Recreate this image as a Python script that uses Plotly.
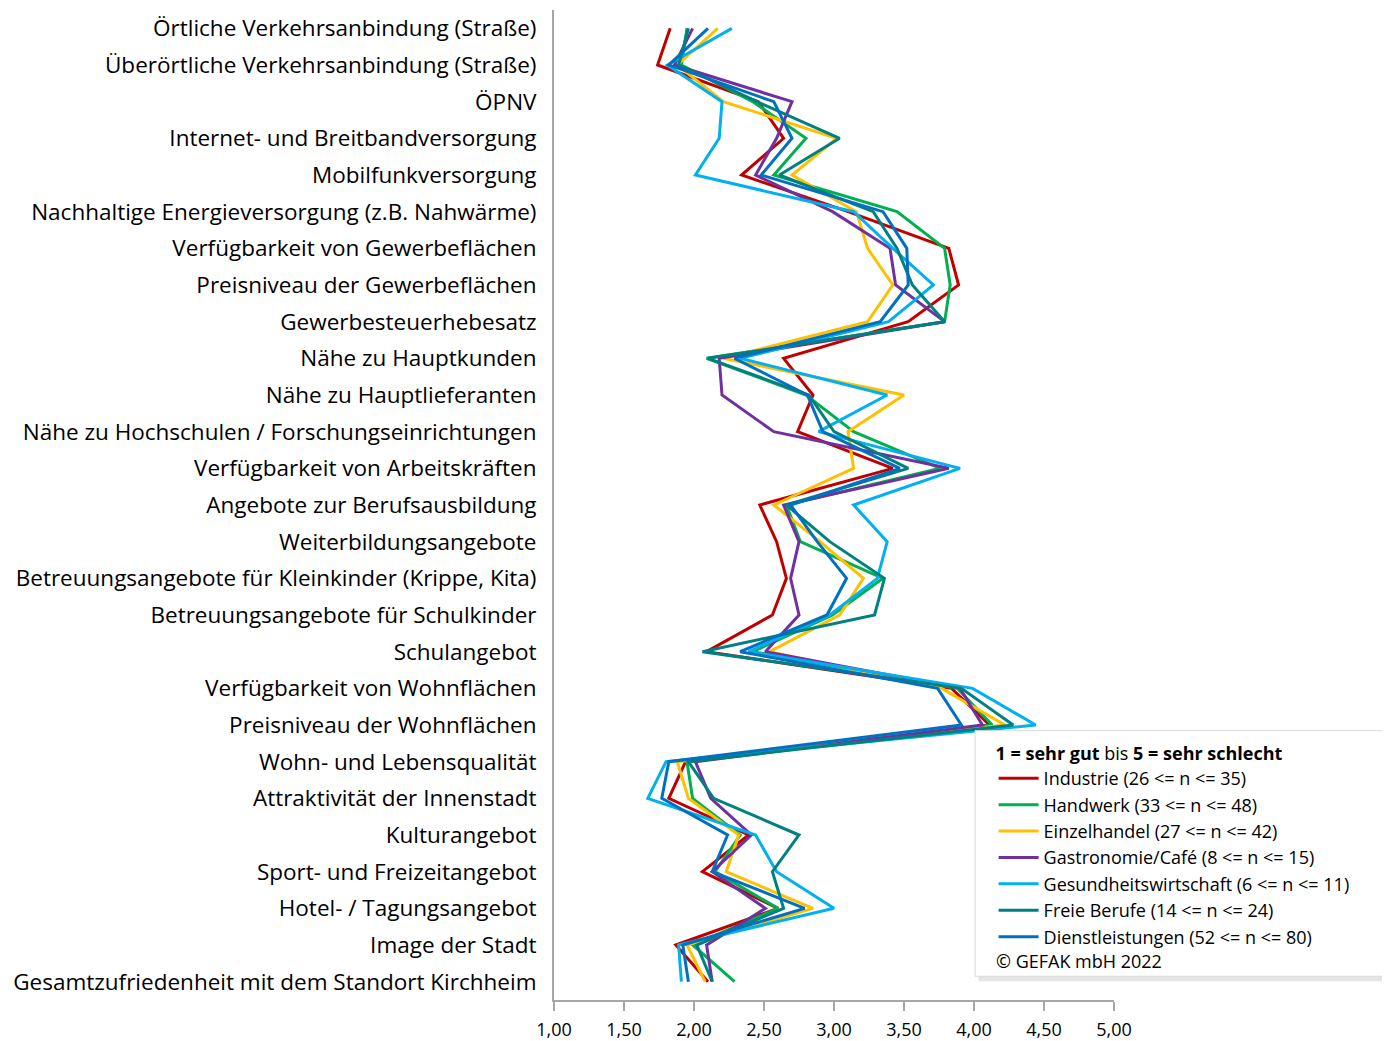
import plotly.graph_objects as go

categories = [
    "Örtliche Verkehrsanbindung (Straße)",
    "Überörtliche Verkehrsanbindung (Straße)",
    "ÖPNV",
    "Internet- und Breitbandversorgung",
    "Mobilfunkversorgung",
    "Nachhaltige Energieversorgung (z.B. Nahwärme)",
    "Verfügbarkeit von Gewerbeflächen",
    "Preisniveau der Gewerbeflächen",
    "Gewerbesteuerhebesatz",
    "Nähe zu Hauptkunden",
    "Nähe zu Hauptlieferanten",
    "Nähe zu Hochschulen / Forschungseinrichtungen",
    "Verfügbarkeit von Arbeitskräften",
    "Angebote zur Berufsausbildung",
    "Weiterbildungsangebote",
    "Betreuungsangebote für Kleinkinder (Krippe, Kita)",
    "Betreuungsangebote für Schulkinder",
    "Schulangebot",
    "Verfügbarkeit von Wohnflächen",
    "Preisniveau der Wohnflächen",
    "Wohn- und Lebensqualität",
    "Attraktivität der Innenstadt",
    "Kulturangebot",
    "Sport- und Freizeitangebot",
    "Hotel- / Tagungsangebot",
    "Image der Stadt",
    "Gesamtzufriedenheit mit dem Standort Kirchheim",
]

industrie = [1.83, 1.74, 2.46, 2.64, 2.34, 3.10, 3.82, 3.89, 3.53, 2.64, 2.85, 2.74, 3.42, 2.47,
             2.59, 2.66, 2.56, 2.09, 3.84, 4.11, 1.94, 1.82, 2.39, 2.06, 2.60, 1.87, 2.10]
handwerk = [1.95, 1.91, 2.42, 2.80, 2.57, 3.45, 3.79, 3.83, 3.79, 2.09, 2.80, 3.14, 3.76, 2.66,
            2.76, 3.35, 2.99, 2.42, 3.88, 4.13, 1.95, 1.99, 2.33, 2.15, 2.60, 1.99, 2.29]
einzelhandel = [2.17, 1.88, 2.21, 3.02, 2.70, 3.16, 3.24, 3.42, 3.24, 2.21, 3.50, 3.10, 3.14, 2.57,
                2.90, 3.21, 3.04, 2.54, 3.77, 4.22, 1.88, 1.96, 2.32, 2.23, 2.85, 1.95, 2.08]
gastronomie = [1.99, 1.86, 2.70, 2.59, 2.44, 2.99, 3.40, 3.44, 3.79, 2.18, 2.20, 2.57, 3.82, 2.64,
               2.75, 2.69, 2.75, 2.51, 3.90, 4.06, 2.01, 2.12, 2.41, 2.13, 2.51, 2.09, 2.13]
gesundheit = [2.27, 1.81, 2.20, 2.18, 2.01, 3.14, 3.42, 3.71, 3.39, 2.33, 3.38, 2.89, 3.90, 3.14,
              3.38, 3.31, 2.97, 2.39, 3.99, 4.44, 1.80, 1.67, 2.44, 2.59, 3.00, 1.89, 1.91]
freie_berufe = [1.96, 1.89, 2.45, 3.04, 2.61, 3.28, 3.45, 3.56, 3.79, 2.10, 2.82, 3.00, 3.53, 2.66,
                2.97, 3.36, 3.29, 2.06, 3.91, 4.28, 1.96, 2.14, 2.75, 2.56, 2.64, 2.02, 2.13]
dienstleistungen = [2.10, 1.82, 2.57, 2.70, 2.48, 3.35, 3.52, 3.53, 3.33, 2.29, 2.81, 2.92, 3.47, 2.69,
                    2.88, 3.09, 2.95, 2.33, 3.74, 3.91, 1.82, 1.77, 2.24, 2.13, 2.79, 1.92, 1.96]

series_names = [
    "Industrie (26 <= n <= 35)",
    "Handwerk (33 <= n <= 48)",
    "Einzelhandel (27 <= n <= 42)",
    "Gastronomie/Café (8 <= n <= 15)",
    "Gesundheitswirtschaft (6 <= n <= 11)",
    "Freie Berufe (14 <= n <= 24)",
    "Dienstleistungen (52 <= n <= 80)",
]
series_values = [industrie, handwerk, einzelhandel, gastronomie, gesundheit, freie_berufe, dienstleistungen]
colors = ["#C00000", "#00B050", "#FFC000", "#7030A0", "#00B0F0", "#008080", "#0070C0"]

x_ticks = [1.0, 1.5, 2.0, 2.5, 3.0, 3.5, 4.0, 4.5, 5.0]

FONT = "Open Sans, Carlito, Calibri, sans-serif"

fig = go.Figure()
for name, vals, col in zip(series_names, series_values, colors):
    fig.add_trace(go.Scatter(
        x=vals, y=categories, mode="lines", name=name,
        line=dict(color=col, width=3),
    ))

# legend box with soft shadow
fig.add_shape(type="rect", xref="paper", yref="paper",
              x0=0.758, x1=1.486, y0=0.019, y1=0.267,
              line=dict(width=0), fillcolor="rgba(0,0,0,0.10)", layer="above")
fig.add_shape(type="rect", xref="paper", yref="paper",
              x0=0.752, x1=1.480, y0=0.024, y1=0.272,
              line=dict(color="#D9D9D9", width=1), fillcolor="white", layer="above")

fig.add_annotation(xref="paper", yref="paper", x=0.786, y=0.039, xanchor="left", yanchor="middle",
                   text="© GEFAK mbH 2022", showarrow=False,
                   font=dict(family=FONT, size=18, color="#000000"))

fig.update_layout(
    width=1390, height=1041,
    margin=dict(l=546, r=284, t=2, b=49),
    paper_bgcolor="white", plot_bgcolor="white",
    separators=",.",
    font=dict(family=FONT, color="#000000"),
    showlegend=True,
    legend=dict(
        x=0.785, y=0.266, xanchor="left", yanchor="top",
        bgcolor="rgba(0,0,0,0)", borderwidth=0,
        title=dict(text="<b>1 = sehr gut</b> bis <b>5 = sehr schlecht</b>",
                   font=dict(family=FONT, size=18, color="#000000"), side="top"),
        font=dict(family=FONT, size=18, color="#000000"),
        itemwidth=40, tracegroupgap=0,
    ),
    xaxis=dict(
        range=[1, 5], tickvals=x_ticks, tickformat=".2f",
        showgrid=False, zeroline=False,
        showline=True, linecolor="#A6A6A6", linewidth=2,
        ticks="outside", ticklen=9, tickcolor="#A6A6A6", tickwidth=2,
        ticklabelstandoff=3,
        tickfont=dict(family=FONT, size=18, color="#000000"),
        fixedrange=True,
    ),
    yaxis=dict(
        type="category", categoryorder="array", categoryarray=categories,
        range=[len(categories) - 0.5, -0.5],
        showgrid=False, zeroline=False,
        showline=True, linecolor="#A6A6A6", linewidth=2,
        ticks="", ticklabelstandoff=11,
        tickfont=dict(family=FONT, size=22.5, color="#000000"),
        fixedrange=True,
    ),
)

fig.write_html("out.html")
